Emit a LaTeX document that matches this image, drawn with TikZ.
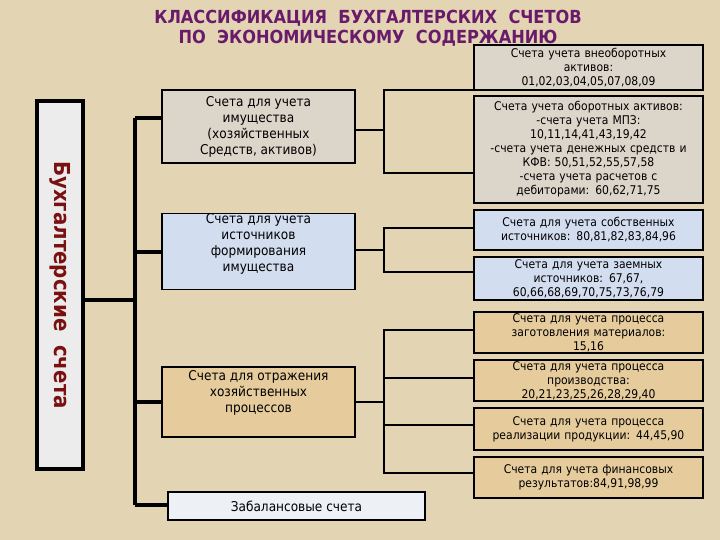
\documentclass[tikz,border=0pt]{standalone}
\usepackage{fontspec}
\setmainfont{DejaVu Sans Condensed}
\definecolor{bg}{HTML}{E3D5B3}
\definecolor{gbox}{HTML}{DCD5CA}
\definecolor{bbox}{HTML}{D3DDF0}
\definecolor{tbox}{HTML}{E6CC9C}
\definecolor{wbox}{HTML}{EDF1F6}
\definecolor{ttl}{HTML}{6A1A6A}
\definecolor{dred}{HTML}{7A1010}
\begin{document}
\begin{tikzpicture}[x=1pt,y=-1pt,
  lbox/.style={draw=black,line width=1.8pt,minimum width=193pt,align=center,font=\fontsize{13.5}{16}\selectfont,inner sep=2pt},
  rbox/.style={draw=black,line width=1.8pt,minimum width=229pt,text width=227pt,align=center,font=\fontsize{12}{14}\selectfont,inner sep=1pt},
  trunk/.style={line width=3.5pt},
  sub/.style={line width=1.6pt}]
\fill[bg] (0,0) rectangle (720,540);
\node (t) at (368,28) [align=center,text=ttl,font=\bfseries\fontsize{18}{20}\selectfont] {КЛАССИФИКАЦИЯ\ \ БУХГАЛТЕРСКИХ\ \ СЧЕТОВ\\ПО\ \ ЭКОНОМИЧЕСКОМУ\ \ СОДЕРЖАНИЮ};
\node (L) [draw,line width=4pt,fill=gray!15,minimum width=46pt,minimum height=368pt] at (60,285) {};
\node[rotate=-90,text=dred,font=\bfseries\fontsize{22}{24}\selectfont] at (L.center) {Бухгалтерские\ \ счета};
\node (b1) [lbox,fill=gbox,minimum height=73pt] at (258.5,126.5) {Счета для учета\\имущества\\(хозяйственных\\Средств, активов)};
\node (b2) [lbox,fill=bbox,minimum height=73pt,inner sep=0pt] at (258.5,251.5) {Счета для учета\\источников\\формирования\\имущества\\[2pt]};
\node (b3) [lbox,fill=tbox,minimum height=70pt] at (258.5,402) {Счета для отражения\\хозяйственных\\процессов\\[6pt]};
\node (b4) [lbox,fill=wbox,minimum width=257pt,minimum height=28pt] at (296.5,506) {Забалансовые счета};
\node (r1) [rbox,fill=gbox,minimum height=45pt] at (588.5,67.5) {Счета учета внеоборотных\\активов:\\01,02,03,04,05,07,08,09};
\node (r2) [rbox,fill=gbox,minimum height=107pt] at (588.5,149.5) {Счета учета оборотных активов:\\-счета учета МПЗ:\\10,11,14,41,43,19,42\\-счета учета денежных средств и\\КФВ: 50,51,52,55,57,58\\-счета учета расчетов с\\дебиторами: 60,62,71,75};
\node (r3) [rbox,fill=bbox,minimum height=40pt] at (588.5,230) {Счета для учета собственных\\источников: 80,81,82,83,84,96};
\node (r4) [rbox,fill=bbox,minimum height=43pt] at (588.5,278.5) {Счета для учета заемных\\источников: 67,67,\\60,66,68,69,70,75,73,76,79};
\node (r5) [rbox,fill=tbox,minimum height=41pt] at (588.5,332.5) {Счета для учета процесса\\заготовления материалов:\\15,16};
\node (r6) [rbox,fill=tbox,minimum height=41pt] at (588.5,380.5) {Счета для учета процесса\\производства:\\20,21,23,25,26,28,29,40};
\node (r7) [rbox,fill=tbox,minimum height=42pt] at (588.5,429) {Счета для учета процесса\\реализации продукции: 44,45,90};
\node (r8) [rbox,fill=tbox,minimum height=41pt] at (588.5,477.5) {Счета для учета финансовых\\результатов:84,91,98,99};
% trunk
\coordinate (tt) at (135,118);
\coordinate (tb) at (135,505);
\draw[trunk] (tt) -- (tb);
\draw[trunk] (L.east |- 0,300) -- (135,300);
\draw[trunk] (tt) -- (b1.west |- tt);
\draw[trunk] (135,252) -- (b2.west |- 0,252);
\draw[trunk] (135,402) -- (b3.west |- 0,402);
\draw[trunk] (tb) -- (b4.west |- tb);
% group 1
\draw[sub] (b1.east |- 0,130) -- (384,130);
\draw[sub] (r1.west |- 0,90) -| (384,173) -- (r2.west |- 0,173);
% group 2
\draw[sub] (b2.east |- 0,250) -- (384,250);
\draw[sub] (r3.west |- 0,228) -| (384,272) -- (r4.west |- 0,272);
% group 3
\draw[sub] (b3.east |- 0,402) -- (384,402);
\draw[sub] (r5.west |- 0,330) -| (384,473) -- (r8.west |- 0,473);
\draw[sub] (384,378) -- (r6.west |- 0,378);
\draw[sub] (384,425) -- (r7.west |- 0,425);
\end{tikzpicture}
\end{document}
